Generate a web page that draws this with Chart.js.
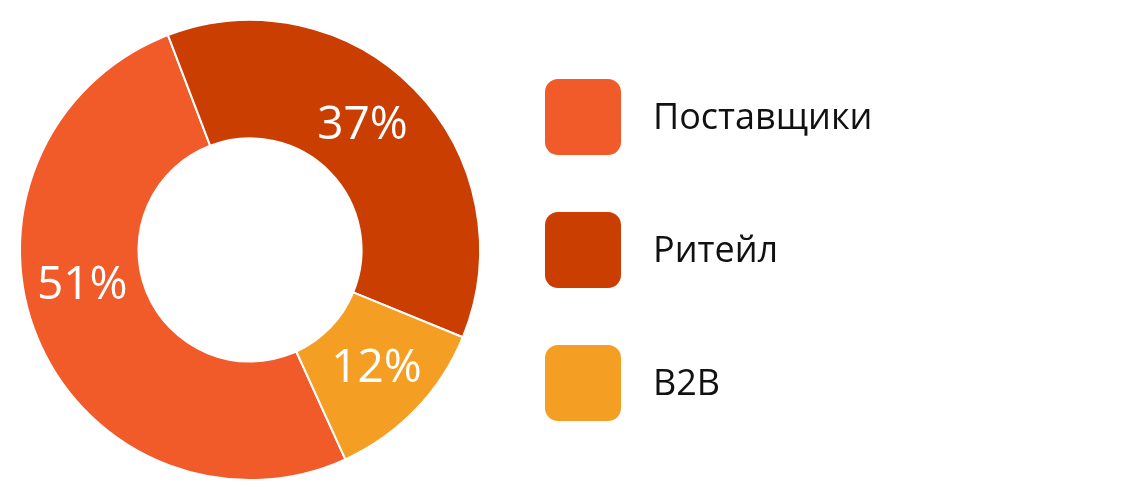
<!DOCTYPE html>
<html lang="ru">
<head>
    <meta charset="UTF-8">
    <title>Структура выручки</title>
    <script src="https://cdn.jsdelivr.net/npm/chart.js"></script>
    <style>
        html, body {
            margin: 0;
            padding: 0;
            background: #ffffff;
        }
        #wrap {
            width: 1140px;
            height: 500px;
        }
    </style>
</head>
<body>
    <div id="wrap">
        <canvas id="shareChart" width="1140" height="500"></canvas>
    </div>

    <script>
        const categories = ['Поставщики', 'Ритейл', 'B2B'];
        const shares = [51, 37, 12];
        const colors = ['#F15A29', '#CB3E02', '#F49F24'];

        const FONT = '"Open Sans", "Noto Sans", sans-serif';

        // percentages written inside the ring
        const sliceLabels = {
            id: 'sliceLabels',
            afterDatasetsDraw(chart, args, opts) {
                const ctx = chart.ctx;
                const meta = chart.getDatasetMeta(0);
                ctx.save();
                ctx.fillStyle = '#ffffff';
                ctx.font = '500 46px ' + FONT;
                ctx.textAlign = 'center';
                ctx.textBaseline = 'alphabetic';
                meta.data.forEach((arc, i) => {
                    const p = arc.getProps(['x', 'y', 'startAngle', 'endAngle', 'innerRadius', 'outerRadius'], true);
                    const shift = (opts.angleShift[i] || 0) * Math.PI / 180;
                    const a = (p.startAngle + p.endAngle) / 2 + shift;
                    const r = (p.innerRadius + p.outerRadius) / 2;
                    const x = p.x + Math.cos(a) * r;
                    const y = p.y + Math.sin(a) * r;
                    ctx.fillText(shares[i] + '%', x, y + 17);
                });
                ctx.restore();
            }
        };

        // legend with big rounded swatches on the right
        const sideLegend = {
            id: 'sideLegend',
            afterDraw(chart, args, opts) {
                const ctx = chart.ctx;
                ctx.save();
                categories.forEach((name, i) => {
                    const top = opts.top + i * opts.step;
                    ctx.fillStyle = colors[i];
                    ctx.beginPath();
                    ctx.roundRect(opts.left, top, opts.size, opts.size, opts.radius);
                    ctx.fill();
                    ctx.fillStyle = '#111111';
                    ctx.font = '400 36px ' + FONT;
                    ctx.textAlign = 'left';
                    ctx.textBaseline = 'alphabetic';
                    ctx.fillText(name, opts.textX, top + 50);
                });
                ctx.restore();
            }
        };

        new Chart(document.getElementById('shareChart'), {
            type: 'doughnut',
            data: {
                labels: categories,
                datasets: [{
                    data: shares,
                    backgroundColor: colors,
                    borderColor: '#ffffff',
                    borderWidth: 2,
                    hoverOffset: 0
                }]
            },
            options: {
                responsive: false,
                animation: false,
                rotation: 155.5,
                cutout: '48.5%',
                layout: {
                    padding: { left: 19, top: 19, bottom: 19, right: 659 }
                },
                plugins: {
                    legend: { display: false },
                    tooltip: { enabled: false },
                    sliceLabels: { angleShift: [12, -4.5, -1.7] },
                    sideLegend: { left: 545, top: 79, step: 133, size: 76, radius: 13, textX: 653 }
                }
            },
            plugins: [sliceLabels, sideLegend]
        });
    </script>
</body>
</html>
